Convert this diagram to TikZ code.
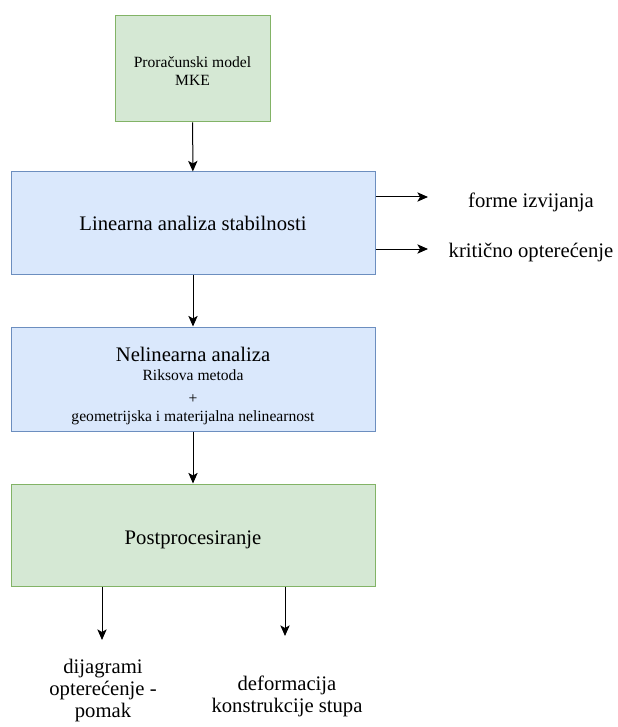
\documentclass[tikz,border=0pt]{standalone}
\usepackage{fontspec}
\setmainfont{Liberation Serif}
\usetikzlibrary{arrows.meta,positioning}
\definecolor{zelenafill}{HTML}{D5E8D4}
\definecolor{zelenarub}{HTML}{82B366}
\definecolor{plavafill}{HTML}{DAE8FC}
\definecolor{plavarub}{HTML}{6C8EBF}
\newcommand{\manji}{\fontsize{11.7}{14.5}\selectfont}
\begin{document}
\begin{tikzpicture}[x=0.75pt, y=-0.75pt, font=\fontsize{15.5}{17}\selectfont,
      korak/.style={draw, line width=0.75pt, align=center, inner sep=2pt,
                    minimum width=273pt, minimum height=76.5pt},
      zeleni/.style={korak, fill=zelenafill, draw=zelenarub},
      plavi/.style={korak, fill=plavafill, draw=plavarub},
      strelica/.style={-{Stealth[length=8pt,width=7pt,inset=2pt]}, line width=0.75pt},
      izlaz/.style={align=center}]
    \useasboundingbox (0,0) rectangle (617,727);
    % glavni tok
    \node[zeleni, minimum width=116.25pt, minimum height=79.5pt,
          font=\fontsize{11.7}{13.5}\selectfont] (model) at (192.5,69)
      {\rule{0pt}{11pt}Proračunski model\\MKE};
    \node[plavi] (linearna) at (193,223) {Linearna analiza stabilnosti};
    \node[plavi, minimum height=78pt] (nelinearna) at (193,379)
      {\rule{0pt}{22pt}Nelinearna analiza\\[-3pt] \manji Riksova metoda\\ \manji +\\[-3pt]
       \manji geometrijska i materijalna nelinearnost};
    \node[zeleni] (post) at (193,535) {\rule{0pt}{17pt}Postprocesiranje};
    \draw[strelica] (model) -- (linearna);
    \draw[strelica] (linearna) -- (nelinearna);
    \draw[strelica] (nelinearna) -- (post);
    % rezultati linearne analize
    \coordinate (forme-kraj) at (428,197);
    \coordinate (krit-kraj) at (428,249);
    \node[izlaz] (forme) at (531,202) {forme izvijanja};
    \node[izlaz] (krit) at (531,253) {kritično opterećenje};
    \draw[strelica] (linearna.east |- forme-kraj) -- (forme-kraj);
    \draw[strelica] (linearna.east |- krit-kraj) -- (krit-kraj);
    % rezultati postprocesiranja
    \coordinate (dij-kraj) at (102,640);
    \coordinate (def-kraj) at (285,636);
    \node[izlaz, font=\fontsize{15.5}{16.5}\selectfont] (dijagrami) at (103,691)
      {dijagrami\\opterećenje -\\pomak};
    \node[izlaz, font=\fontsize{15.5}{16.5}\selectfont] (deformacija) at (287,696)
      {deformacija\\konstrukcije stupa};
    \draw[strelica] (post.south -| dij-kraj) -- (dij-kraj);
    \draw[strelica] (post.south -| def-kraj) -- (def-kraj);
\end{tikzpicture}
\end{document}
